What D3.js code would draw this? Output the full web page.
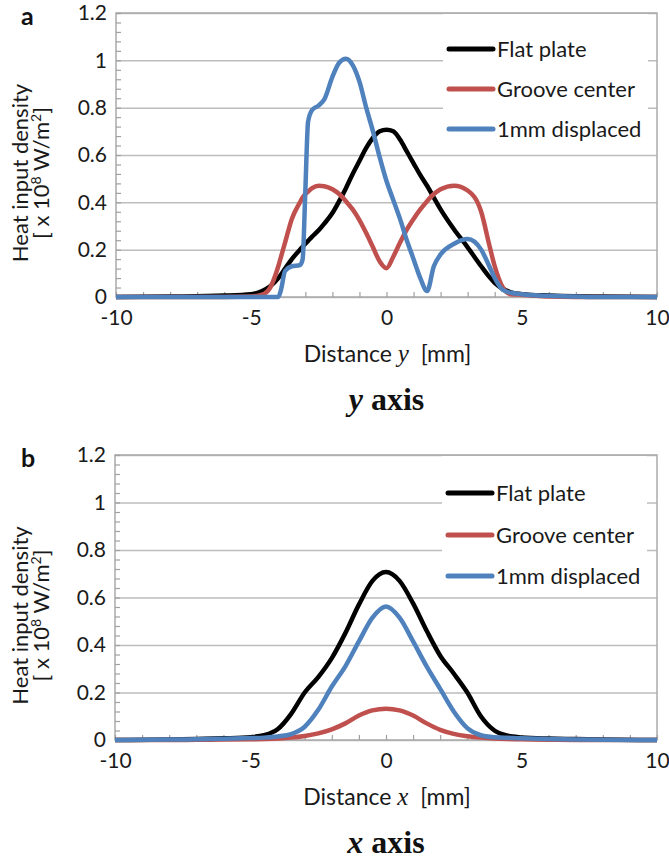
<!DOCTYPE html>
<html>
<head>
<meta charset="utf-8">
<script src="https://cdn.jsdelivr.net/npm/d3@7"></script>
<style>
    body { margin: 0; background: #fff; }
    svg { display: block; font-family: Lato, "Open Sans", sans-serif; }
</style>
</head>
<body>
<svg id="chart" width="669" height="864"></svg>
<script>
const seriesNames = ["Flat plate", "Groove center", "1mm displaced"];
const seriesColors = ["#000000", "#c0504d", "#4f81bd"];
const yTicks = [0, 0.2, 0.4, 0.6, 0.8, 1, 1.2];
const xTicks = [-10, -5, 0, 5, 10];

// panel a - distance along y [mm]
const distY = [-10, -8, -6, -5, -4.6, -4.3, -4, -3.9, -3.75, -3.5, -3.2, -3.1, -3, -2.9, -2.75, -2.5, -2.3, -2, -1.75, -1.5,
    -1.25, -1, -0.75, -0.5, -0.25, 0, 0.25, 0.5, 0.75, 1, 1.25, 1.5, 1.75, 2, 2.5, 3, 3.5, 3.8, 4, 4.3, 4.6, 5, 6, 7, 8, 10];
const flatY = [0, 0.002, 0.006, 0.012, 0.025, 0.045, 0.08, 0.095, 0.12, 0.16, 0.2, 0.212, 0.225, 0.237, 0.255, 0.283, 0.31, 0.355, 0.405, 0.46,
    0.52, 0.575, 0.63, 0.673, 0.7, 0.707, 0.7, 0.665, 0.615, 0.565, 0.515, 0.47, 0.42, 0.37, 0.285, 0.21, 0.13, 0.085, 0.06, 0.035, 0.02, 0.012, 0.006, 0.003, 0.002, 0];
const grooveY = [0, 0, 0, 0.002, 0.01, 0.04, 0.13, 0.17, 0.23, 0.33, 0.4, 0.42, 0.435, 0.445, 0.46, 0.47, 0.468, 0.455, 0.435, 0.405,
    0.37, 0.325, 0.27, 0.21, 0.15, 0.122, 0.17, 0.23, 0.285, 0.33, 0.37, 0.405, 0.435, 0.455, 0.47, 0.45, 0.36, 0.22, 0.13, 0.04, 0.012, 0.01, 0.002, 0, 0, 0];
const dispY = [0, 0, 0, 0, 0, 0, 0, 0.03, 0.11, 0.13, 0.135, 0.16, 0.45, 0.74, 0.79, 0.81, 0.835, 0.93, 0.99, 1.007,
    0.98, 0.91, 0.8, 0.7, 0.59, 0.49, 0.41, 0.33, 0.24, 0.16, 0.08, 0.025, 0.13, 0.18, 0.225, 0.245, 0.2, 0.13, 0.08, 0.03, 0.018, 0.012, 0.005, 0.002, 0, 0];

// panel b - distance along x [mm]
const distX = [-10, -8, -7, -6, -5, -4.5, -4, -3.5, -3, -2.5, -2, -1.5, -1, -0.5, 0, 0.5, 1, 1.5, 2, 2.5, 3, 3.5, 4, 4.5, 5, 6, 7, 8, 10];
const flatX = [0, 0.002, 0.004, 0.007, 0.012, 0.02, 0.045, 0.11, 0.2, 0.265, 0.345, 0.45, 0.57, 0.67, 0.707, 0.67, 0.575, 0.46, 0.355, 0.28, 0.2, 0.1, 0.04, 0.018, 0.011, 0.006, 0.004, 0.002, 0];
const grooveX = [0, 0, 0.001, 0.002, 0.003, 0.004, 0.006, 0.01, 0.017, 0.028, 0.045, 0.07, 0.103, 0.125, 0.132, 0.125, 0.103, 0.07, 0.043, 0.026, 0.016, 0.01, 0.006, 0.004, 0.003, 0.001, 0, 0, 0];
const dispX = [0, 0.002, 0.003, 0.005, 0.008, 0.01, 0.015, 0.025, 0.056, 0.127, 0.225, 0.31, 0.415, 0.515, 0.562, 0.515, 0.415, 0.31, 0.215, 0.12, 0.05, 0.02, 0.012, 0.009, 0.007, 0.004, 0.002, 0.001, 0];

const svg = d3.select("#chart");

function drawPanel(opt) {
    const w = opt.width, h = opt.height;
    const g = svg.append("g").attr("transform", `translate(${opt.left},${opt.top})`);

    const x = d3.scaleLinear().domain([-10, 10]).range([0, w]);
    const y = d3.scaleLinear().domain([0, 1.2]).range([h, 0]);

    // gridlines
    g.append("g")
        .call(d3.axisLeft(y).tickValues(yTicks).tickSize(-w).tickFormat(""))
        .call(s => s.select(".domain").remove())
        .selectAll("line").attr("stroke", "#bdbdbd").attr("stroke-width", 1.5);

    // plot frame
    g.append("rect")
        .attr("width", w).attr("height", h)
        .attr("fill", "none").attr("stroke", "#ababab").attr("stroke-width", 1.5);

    // minor ticks, inside
    g.append("g").attr("transform", `translate(0,${h})`)
        .call(d3.axisBottom(x).tickValues(d3.range(-10, 11, 1)).tickSize(-5).tickFormat(""))
        .call(s => s.select(".domain").remove())
        .selectAll("line").attr("stroke", "#a0a0a0").attr("stroke-width", 1.2);
    g.append("g")
        .call(d3.axisLeft(y).tickValues(d3.range(0, 1.2001, 0.04)).tickSize(-5).tickFormat(""))
        .call(s => s.select(".domain").remove())
        .selectAll("line").attr("stroke", "#a0a0a0").attr("stroke-width", 1.2);

    // tick labels
    const yAx = g.append("g")
        .call(d3.axisLeft(y).tickValues(yTicks).tickSize(0).tickPadding(9).tickFormat(d => d));
    yAx.select(".domain").remove();
    yAx.selectAll("text").attr("font-size", 21).attr("font-family", "Lato").attr("fill", "#1a1a1a");

    const xAx = g.append("g").attr("transform", `translate(0,${h})`)
        .call(d3.axisBottom(x).tickValues(xTicks).tickSize(0).tickPadding(13).tickFormat(d => d));
    xAx.select(".domain").remove();
    xAx.selectAll("text").attr("font-size", 21).attr("font-family", "Lato").attr("fill", "#1a1a1a");

    // curves
    const line = d3.line()
        .x(d => x(d[0]))
        .y(d => y(d[1]))
        .curve(d3.curveMonotoneX);

    opt.series.forEach((vals, i) => {
        g.append("path")
            .datum(opt.dist.map((d, k) => [d, vals[k]]))
            .attr("d", line)
            .attr("fill", "none")
            .attr("stroke", seriesColors[i])
            .attr("stroke-width", 4.5)
            .attr("stroke-linejoin", "round");
    });

    // legend
    const lg = g.append("g").attr("transform", `translate(${opt.legend.x},${opt.legend.y})`);
    lg.append("rect").attr("width", 205).attr("height", 140).attr("fill", "#fff");
    seriesNames.forEach((name, i) => {
        const row = lg.append("g").attr("transform", `translate(0,${opt.legend.rows[i]})`);
        row.append("line").attr("x1", 6).attr("x2", 50)
            .attr("stroke", seriesColors[i]).attr("stroke-width", 5).attr("stroke-linecap", "round");
        row.append("text").attr("x", 54).attr("dy", "0.35em")
            .attr("font-size", 22).attr("fill", "#1a1a1a").text(name);
    });

    // y axis title
    g.append("text")
        .attr("transform", `translate(${28 - opt.left},${h / 2 + 18}) rotate(-90)`)
        .attr("text-anchor", "middle").attr("font-size", 22).attr("fill", "#1a1a1a")
        .text("Heat input density");
    const t2 = g.append("text")
        .attr("transform", `translate(${49 - opt.left},${h / 2 + 18}) rotate(-90)`)
        .attr("text-anchor", "middle").attr("font-size", 22).attr("fill", "#1a1a1a");
    t2.append("tspan").text("[ x 10");
    t2.append("tspan").attr("font-size", 14).attr("dy", -8).text("8");
    t2.append("tspan").attr("dy", 8).text(" W/m");
    t2.append("tspan").attr("font-size", 14).attr("dy", -8).text("2");
    t2.append("tspan").attr("dy", 8).text("]");

    // x axis title
    const xt = g.append("text")
        .attr("x", w / 2 + 1).attr("y", h + 65)
        .attr("text-anchor", "middle").attr("font-size", 23).attr("fill", "#1a1a1a");
    xt.append("tspan").text("Distance ");
    xt.append("tspan").attr("font-family", "Liberation Serif").attr("font-style", "italic").attr("font-size", 25).text(opt.axisVar);
    xt.append("tspan").attr("xml:space", "preserve").text("  [mm]");

    // panel letter
    g.append("text").attr("x", 21 - opt.left).attr("y", 12)
        .attr("font-size", 25).attr("font-weight", "bold").attr("fill", "#111")
        .text(opt.letter);

    // caption
    const cap = g.append("text")
        .attr("x", w / 2).attr("y", h + 113)
        .attr("text-anchor", "middle").attr("font-family", "Liberation Serif")
        .attr("font-weight", "bold").attr("font-size", 32).attr("fill", "#111");
    cap.append("tspan").attr("font-style", "italic").text(opt.axisVar);
    cap.append("tspan").text(" axis");
}

drawPanel({
    left: 116, top: 13, width: 541, height: 284,
    dist: distY, series: [flatY, grooveY, dispY],
    legend: { x: 327, y: 1, rows: [35, 75, 115] },
    axisVar: "y", letter: "a"
});

drawPanel({
    left: 115, top: 455, width: 542, height: 285,
    dist: distX, series: [flatX, grooveX, dispX],
    legend: { x: 327, y: 1, rows: [37, 79, 120] },
    axisVar: "x", letter: "b"
});
</script>
</body>
</html>
